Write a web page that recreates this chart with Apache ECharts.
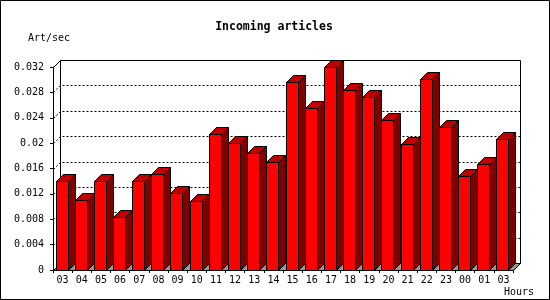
<!DOCTYPE html>
<html><head><meta charset="utf-8">
<script src="https://cdn.jsdelivr.net/npm/echarts@6/dist/echarts.min.js"></script>
<style>html,body{margin:0;padding:0;background:#fff}#c{width:550px;height:300px}</style>
</head><body><div id="c"></div>
<script>
var hours = ['03','04','05','06','07','08','09','10','11','12','13','14','15','16','17','18','19','20','21','22','23','00','01','03'];
var rates = [0.0140, 0.0111, 0.0140, 0.0083, 0.0140, 0.0151, 0.0122, 0.0108, 0.0214, 0.0200, 0.0184, 0.0170,
             0.0297, 0.0256, 0.0320, 0.0283, 0.0272, 0.0236, 0.0198, 0.0301, 0.0225, 0.0148, 0.0167, 0.0206];
var yMin = 0, yMax = 0.032, yStep = 0.004;
var titleText = 'Incoming articles';
var yName = 'Art/sec';
var xName = 'Hours';

var DEPTH = 7;
var FONT = '"DejaVu Sans Mono", "Liberation Mono", monospace';
function snap(v) { return Math.round(v) + 0.5; }

function renderFrame(params, api) {
  var cs = params.coordSys;
  var L = snap(cs.x), T = snap(cs.y), R = snap(cs.x + cs.width), B = snap(cs.y + cs.height);
  var d = DEPTH;
  var ch = [];
  ch.push({type: 'rect', shape: {x: L + d, y: T - d, width: R - L, height: B - T},
           style: {fill: '#fff', stroke: '#000', lineWidth: 1}});
  var n = Math.round((yMax - yMin) / yStep);
  for (var k = 1; k < n; k++) {
    var y = snap(api.coord([0, yMin + k * yStep])[1]);
    ch.push({type: 'line', shape: {x1: L + d + 2, y1: y - d, x2: R + d, y2: y - d},
             style: {stroke: '#000', lineWidth: 1, lineDash: [2, 2]}});
    ch.push({type: 'line', shape: {x1: L, y1: y, x2: L + d, y2: y - d},
             style: {stroke: '#000', lineWidth: 1, lineDash: [2, 2]}});
  }
  ch.push({type: 'line', shape: {x1: L, y1: T, x2: L + d, y2: T - d},
           style: {stroke: '#000', lineWidth: 1}});
  ch.push({type: 'polygon', shape: {points: [[L, B], [R, B], [R + d, B - d], [L + d, B - d]]},
           style: {fill: '#969696', stroke: '#000', lineWidth: 1}});
  return {type: 'group', children: ch};
}

function renderBar(params, api) {
  var i = api.value(0), v = api.value(1);
  var top = api.coord([i, v]);
  var base = api.coord([i, yMin]);
  var band = api.size([1, 0])[0];
  var d = DEPTH;
  var x0 = Math.round(top[0] - band / 2 + 2.5) + 0.5;
  var x1 = x0 + 12;
  var yT = snap(top[1]);
  var y0 = snap(base[1]);
  return {type: 'group', children: [
    {type: 'polygon', shape: {points: [[x1, yT], [x1 + d, yT - d], [x1 + d, y0 - d], [x1, y0]]},
     style: {fill: '#800000', stroke: '#000', lineWidth: 1}},
    {type: 'polygon', shape: {points: [[x0, yT], [x0 + d, yT - d], [x1 + d, yT - d], [x1, yT]]},
     style: {fill: '#c00000', stroke: '#000', lineWidth: 1}},
    {type: 'rect', shape: {x: x0, y: yT, width: x1 - x0, height: y0 - yT},
     style: {fill: '#ff0000', stroke: '#000', lineWidth: 1}}
  ]};
}

var chart = echarts.init(document.getElementById('c'), null, {renderer: 'canvas'});
chart.setOption({
  animation: false,
  backgroundColor: '#fff',
  grid: {left: 53, top: 67, width: 460, height: 203, containLabel: false},
  xAxis: {
    type: 'category', data: hours, boundaryGap: true,
    axisLine: {lineStyle: {color: '#000', width: 1}},
    axisTick: {show: true, length: 3, lineStyle: {color: '#000'}},
    axisLabel: {color: '#000', fontFamily: FONT, fontSize: 10, margin: 5, interval: 0},
    splitLine: {show: false}
  },
  yAxis: {
    type: 'value', min: yMin, max: yMax, interval: yStep,
    axisLine: {show: true, lineStyle: {color: '#000', width: 1}},
    axisTick: {show: true, length: 3, lineStyle: {color: '#000'}},
    axisLabel: {color: '#000', fontFamily: FONT, fontSize: 10, margin: 9},
    splitLine: {show: false}
  },
  series: [
    {type: 'custom', z: 1, renderItem: renderFrame, data: [[0, 0]], silent: true},
    {type: 'custom', z: 3, renderItem: renderBar,
     data: rates.map(function (r, i) { return [i, r]; }),
     encode: {x: 0, y: 1}}
  ],
  graphic: [
    {type: 'rect', shape: {x: 0.5, y: 0.5, width: 549, height: 299},
     style: {fill: 'none', stroke: '#000', lineWidth: 1}, z: 10},
    {type: 'text', x: 274, y: 27,
     style: {text: titleText, font: 'bold 11.5px ' + FONT, fill: '#000', align: 'center', verticalAlign: 'middle'}},
    {type: 'text', x: 28, y: 38,
     style: {text: yName, font: '10px ' + FONT, fill: '#000', align: 'left', verticalAlign: 'middle'}},
    {type: 'text', x: 504, y: 292,
     style: {text: xName, font: '10px ' + FONT, fill: '#000', align: 'left', verticalAlign: 'middle'}}
  ]
});
</script>
</body></html>
